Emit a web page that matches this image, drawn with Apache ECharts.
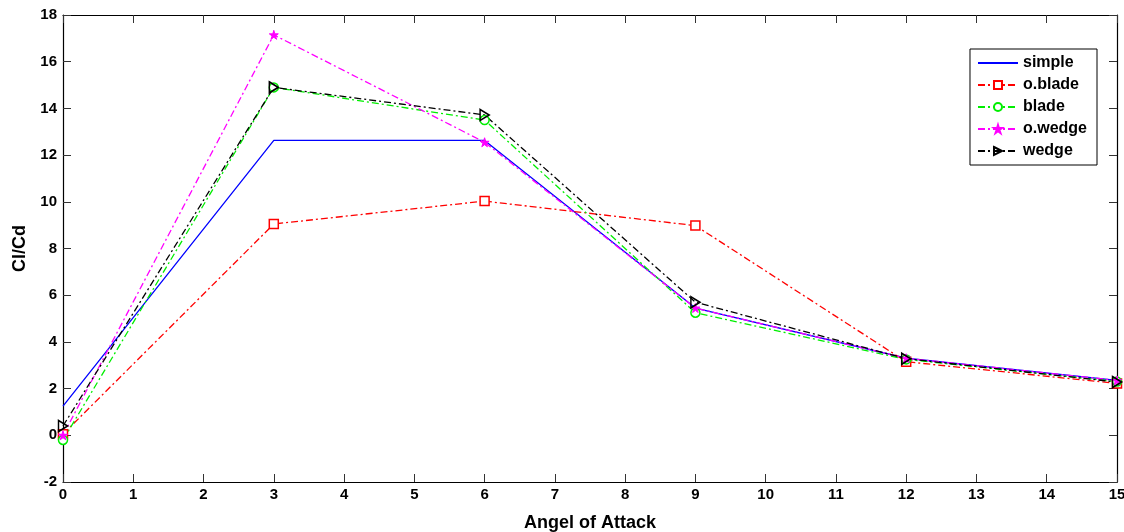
<!DOCTYPE html>
<html>
<head>
<meta charset="utf-8">
<script src="https://cdn.jsdelivr.net/npm/echarts@6/dist/echarts.min.js"></script>
<style>
  html, body { margin: 0; padding: 0; background: #fff; }
  #chart { width: 1124px; height: 532px; }
</style>
</head>
<body>
<div id="chart"></div>
<script>
// Angle of attack (degrees) and lift-to-drag ratio for each configuration
const angles = [0, 3, 6, 9, 12, 15];
const simple = [1.25, 12.63, 12.63, 5.45, 3.3, 2.35];
const oBlade = [0.05, 9.05, 10.03, 8.98, 3.15, 2.22];
const blade  = [-0.2, 14.9, 13.5, 5.25, 3.25, 2.3];
const oWedge = [0.0, 17.15, 12.55, 5.45, 3.3, 2.35];
const wedge  = [0.4, 14.9, 13.72, 5.7, 3.28, 2.28];

const seriesNames = ['simple', 'o.blade', 'blade', 'o.wedge', 'wedge'];
const xTicks = [0, 15, 1];
const yTicks = [-2, 18, 2];

const pairs = arr => angles.map((a, i) => [a, arr[i]]);
const dashDot = [7, 3, 2, 3];
const font = 'Liberation Sans, Arial, sans-serif';
const starPath = 'path://M0,-10 L2.2,-3 L9.5,-3 L3.6,1.2 L5.9,8 L0,3.8 L-5.9,8 L-3.6,1.2 L-9.5,-3 L-2.2,-3 Z';
const triRight = 'path://M0,0 L10,6 L0,12 Z';

function makeSeries(name, data, color, opts) {
  return Object.assign({
    name: name,
    type: 'line',
    data: pairs(data),
    xAxisIndex: 0,
    yAxisIndex: 0,
    color: color,
    lineStyle: { color: color, width: 1.3, type: dashDot },
    itemStyle: { color: '#fff', borderColor: color, borderWidth: 1.5 },
    symbolSize: 9,
    showAllSymbol: true,
    animation: false,
    emphasis: { disabled: true }
  }, opts);
}

const chart = echarts.init(document.getElementById('chart'), null, { renderer: 'canvas' });

const axisCommon = {
  type: 'value',
  axisLine: { show: true, onZero: false, lineStyle: { color: '#000', width: 1.2 } },
  axisTick: { show: true, inside: true, length: 8, lineStyle: { color: '#333' } },
  splitLine: { show: false }
};

chart.setOption({
  backgroundColor: '#fff',
  animation: false,
  grid: { left: 63, right: 7, top: 15, bottom: 50, outerBoundsMode: 'none', containLabel: false },
  xAxis: [
    Object.assign({}, axisCommon, {
      min: xTicks[0], max: xTicks[1], interval: xTicks[2],
      position: 'bottom',
      name: 'Angel of Attack',
      nameLocation: 'middle',
      nameGap: 32,
      nameTextStyle: { fontFamily: font, fontWeight: 'bold', fontSize: 18, color: '#000' },
      axisLabel: { fontFamily: font, fontWeight: 'bold', fontSize: 15, color: '#000', margin: 5 }
    }),
    Object.assign({}, axisCommon, {
      min: xTicks[0], max: xTicks[1], interval: xTicks[2],
      position: 'top',
      axisLabel: { show: false }
    })
  ],
  yAxis: [
    Object.assign({}, axisCommon, {
      min: yTicks[0], max: yTicks[1], interval: yTicks[2],
      position: 'left',
      name: 'Cl/Cd',
      nameLocation: 'middle',
      nameRotate: 90,
      nameGap: 32,
      nameTextStyle: { fontFamily: font, fontWeight: 'bold', fontSize: 18, color: '#000' },
      axisLabel: { fontFamily: font, fontWeight: 'bold', fontSize: 15, color: '#000', margin: 6 }
    }),
    Object.assign({}, axisCommon, {
      min: yTicks[0], max: yTicks[1], interval: yTicks[2],
      position: 'right',
      axisLabel: { show: false }
    })
  ],
  legend: {
    orient: 'vertical',
    right: 27,
    top: 49,
    data: [
      { name: seriesNames[0], itemStyle: { opacity: 0 } },
      seriesNames[1], seriesNames[2], seriesNames[3], seriesNames[4]
    ],
    backgroundColor: '#fff',
    borderColor: '#000',
    borderWidth: 1,
    padding: [6, 10, 6, 7],
    itemGap: 6,
    itemWidth: 40,
    itemHeight: 10,
    textStyle: { fontFamily: font, fontWeight: 'bold', fontSize: 16, color: '#000' }
  },
  series: [
    makeSeries(seriesNames[0], simple, '#0000ff', {
      lineStyle: { color: '#0000ff', width: 1.3, type: 'solid' },
      symbol: 'none'
    }),
    makeSeries(seriesNames[1], oBlade, '#ff0000', { symbol: 'rect', symbolSize: 9 }),
    makeSeries(seriesNames[2], blade, '#00ee00', { symbol: 'circle', symbolSize: 9 }),
    makeSeries(seriesNames[3], oWedge, '#ff00ff', {
      symbol: starPath, symbolSize: 9,
      itemStyle: { color: '#ff00ff', borderColor: '#ff00ff', borderWidth: 1 }
    }),
    makeSeries(seriesNames[4], wedge, '#000000', {
      symbol: triRight, symbolSize: [9, 11],
      itemStyle: { color: 'rgba(255,255,255,0)', borderColor: '#000', borderWidth: 1.6 }
    })
  ]
});
</script>
</body>
</html>
